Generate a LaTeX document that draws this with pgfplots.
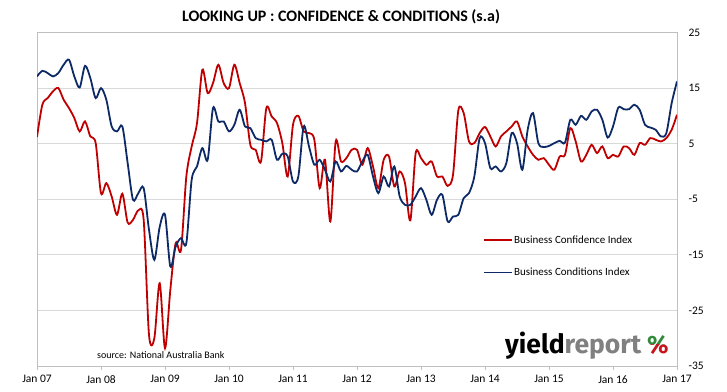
\documentclass[border=0pt]{standalone}
\usepackage{pgfplots}
\pgfplotsset{compat=1.18}
\usepackage{fontspec}
\setmainfont{Carlito}
\newfontfamily\logofont{Fira Sans}
\definecolor{confred}{HTML}{C00000}
\definecolor{condblue}{HTML}{0E2A66}
\definecolor{gridgray}{HTML}{D9D9D9}
\definecolor{axgray}{HTML}{BFBFBF}
\definecolor{logogray}{HTML}{808080}
\definecolor{logogreen}{HTML}{2E8B3A}
\definecolor{logored}{HTML}{C4161C}
\begin{document}
\begin{tikzpicture}[x=1pt,y=1pt]
\useasboundingbox (0,0) rectangle (727,391);
\begin{axis}[
  at={(37pt,25pt)}, anchor=south west,
  scale only axis, width=640pt, height=333.5pt,
  xmin=0, xmax=120, ymin=-35, ymax=25,
  xtick={0,12,...,120},
  xticklabels={Jan 07,Jan 08,Jan 09,Jan 10,Jan 11,Jan 12,Jan 13,Jan 14,Jan 15,Jan 16,Jan 17},
  ytick={-35,-25,-15,-5,5,15,25},
  yticklabels={-35,-25,-15,-5,5,15,25},
  yticklabel pos=right,
  ymajorgrids, grid style={gridgray, line width=0.8pt},
  axis line style={axgray, line width=0.8pt},
  tick style={axgray, line width=0.8pt},
  xtick pos=bottom, xtick align=outside,
  major tick length=4pt,
  ytick style={draw=none},
  tick label style={font=\fontsize{11.5}{13}\selectfont, text=black},
  yticklabel style={anchor=west, xshift=8pt},
  xticklabel style={yshift=-2pt},
  legend style={at={(rel axis cs:0.697,0.394)}, anchor=north west, draw=none, fill=none,
    font=\fontsize{11}{13}\selectfont, row sep=21pt, inner sep=0pt,
    nodes={inner sep=1pt, anchor=west}},
  legend cell align=left,
  legend image code/.code={\draw[#1, line width=1.8pt] (0pt,0pt) -- (28pt,0pt);},
]
\addplot[confred, line width=1.8pt, smooth, tension=0.5] coordinates {
(0,6.2)(1,12.0)(2,13.2)(3,14.4)(4,15.0)(5,12.9)(6,11.4)(7,9.6)(8,7.2)(9,9.0)
(10,6.3)(11,5.1)(12,-3.9)(13,-2.1)(14,-4.5)(15,-7.8)(16,-4.0)(17,-9.2)(18,-8.7)(19,-7.0)
(20,-8.7)(21,-29.4)(22,-30.0)(23,-20.1)(24,-31.8)(25,-21.3)(26,-12.9)(27,-14.1)(28,-0.9)(29,4.5)
(30,8.7)(31,18.3)(32,14.1)(33,15.9)(34,19.2)(35,15.9)(36,15.0)(37,19.2)(38,15.9)(39,12.3)
(40,4.8)(41,3.9)(42,1.8)(43,11.4)(44,9.9)(45,8.7)(46,5.1)(47,-0.9)(48,8.4)(49,10.0)
(50,7.2)(51,6.9)(52,5.7)(53,-3.0)(54,2.1)(55,-9.0)(56,5.4)(57,1.8)(58,2.4)(59,3.9)
(60,3.9)(61,1.2)(62,4.2)(63,0.9)(64,-3.0)(65,2.1)(66,2.7)(67,-2.7)(68,0.0)(69,-2.1)
(70,-8.8)(71,3.3)(72,2.4)(73,1.2)(74,1.8)(75,-0.9)(76,-0.9)(77,-2.6)(78,-0.6)(79,11.0)
(80,10.5)(81,5.4)(82,5.1)(83,6.9)(84,8.0)(85,6.3)(86,4.5)(87,6.3)(88,7.2)(89,8.1)
(90,9.0)(91,6.3)(92,4.5)(93,3.0)(94,2.1)(95,2.4)(96,1.2)(97,0.3)(98,2.7)(99,3.0)
(100,7.8)(101,5.4)(102,1.8)(103,3.0)(104,4.8)(105,3.3)(106,4.5)(107,2.4)(108,3.0)(109,2.7)
(110,4.5)(111,4.2)(112,3.0)(113,5.1)(114,4.8)(115,6.0)(116,5.7)(117,5.4)(118,6.0)(119,7.5)
(120,10.2)
};
\addlegendentry{Business Confidence Index}
\addplot[condblue, line width=1.8pt, smooth, tension=0.5] coordinates {
(0,17.1)(1,18.1)(2,17.7)(3,17.1)(4,17.7)(5,19.2)(6,20.1)(7,17.1)(8,15.1)(9,19.0)
(10,16.8)(11,13.2)(12,15.0)(13,12.9)(14,8.1)(15,7.2)(16,8.1)(17,1.5)(18,-5.1)(19,-3.9)
(20,-3.0)(21,-10.5)(22,-15.9)(23,-10.0)(24,-7.8)(25,-17.1)(26,-13.5)(27,-12.0)(28,-12.9)(29,-1.5)
(30,0.9)(31,4.2)(32,2.1)(33,11.4)(34,9.0)(35,9.0)(36,7.2)(37,8.4)(38,11.1)(39,8.1)
(40,7.8)(41,6.0)(42,5.7)(43,5.4)(44,5.7)(45,2.1)(46,3.2)(47,2.7)(48,-1.8)(49,-0.9)
(50,8.1)(51,4.5)(52,1.2)(53,2.1)(54,0.3)(55,-1.8)(56,1.8)(57,0.0)(58,1.0)(59,0.3)
(60,0.0)(61,1.8)(62,3.0)(63,-0.9)(64,-3.9)(65,-0.9)(66,-2.7)(67,0.9)(68,-4.5)(69,-6.0)
(70,-6.0)(71,-4.5)(72,-3.0)(73,-5.1)(74,-7.8)(75,-5.1)(76,-4.2)(77,-9.0)(78,-8.1)(79,-7.8)
(80,-4.8)(81,-3.9)(82,-0.9)(83,6.0)(84,5.1)(85,0.6)(86,0.9)(87,0.0)(88,1.5)(89,6.9)
(90,5.1)(91,0.3)(92,7.5)(93,10.5)(94,5.1)(95,4.4)(96,4.6)(97,5.1)(98,5.5)(99,5.2)
(100,9.3)(101,8.4)(102,10.0)(103,9.3)(104,10.8)(105,11.1)(106,9.3)(107,6.1)(108,8.1)(109,11.5)
(110,11.2)(111,11.2)(112,12.0)(113,11.1)(114,8.4)(115,7.9)(116,7.5)(117,6.3)(118,6.9)(119,12.3)
(120,16.2)
};
\addlegendentry{Business Conditions Index}
\end{axis}
\node[font=\bfseries\fontsize{16}{18}\selectfont, anchor=base] at (341,369) {LOOKING UP : CONFIDENCE \& CONDITIONS (s.a)};
\node[font=\fontsize{10}{12}\selectfont, anchor=base west, inner sep=0pt] at (97,33) {source: National Australia Bank};
\node[font=\logofont\bfseries\fontsize{26.5}{28}\selectfont, anchor=base west, inner sep=0pt] at (505,38) {yield\textcolor{logogray}{report}};
\begin{scope}
\clip (640,47) rectangle (685,72);
\node[font=\logofont\bfseries\fontsize{25}{28}\selectfont, anchor=base west, inner sep=0pt, text=logogreen] at (647,38) {\%};
\end{scope}
\begin{scope}
\clip (640,30) rectangle (685,47);
\node[font=\logofont\bfseries\fontsize{25}{28}\selectfont, anchor=base west, inner sep=0pt, text=logored] at (647,38) {\%};
\end{scope}
\end{tikzpicture}
\end{document}
